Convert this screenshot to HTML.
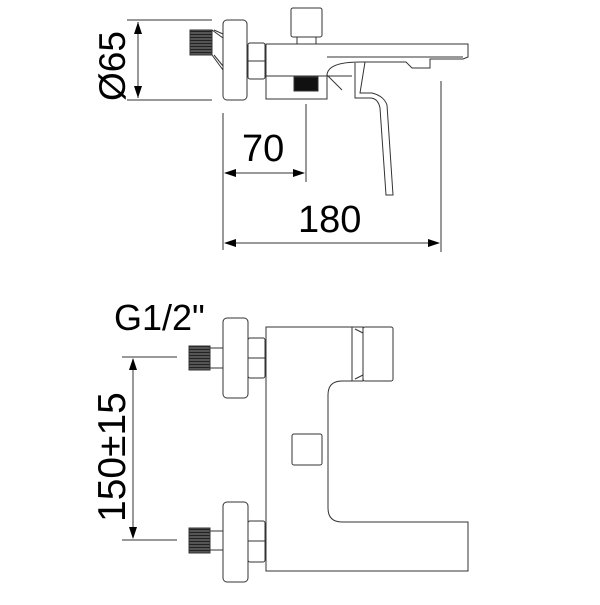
<!DOCTYPE html>
<html><head><style>body{margin:0;background:#fff}</style></head><body>
<svg width="600" height="600" viewBox="0 0 600 600" xmlns="http://www.w3.org/2000/svg" fill="none" stroke="#333" stroke-width="1">
<defs><pattern id="th" width="3" height="3" patternUnits="userSpaceOnUse"><rect width="3" height="3" fill="#555" stroke="none"/><path d="M0 1.5h3" stroke="#222"/></pattern></defs>
<!-- TOP VIEW -->
<line x1="127" y1="20" x2="212" y2="20"/><line x1="127" y1="100" x2="212" y2="100"/>
<line x1="138" y1="22" x2="138" y2="98"/>
<path d="M138 22 l-4 12 h8z M138 98 l-4 -12 h8z" fill="#000" stroke="none"/>
<text x="0" y="0" transform="translate(125,101) rotate(-90)" font-family="Liberation Sans" font-size="37" fill="#000" stroke="none">Ø65</text>
<rect x="190" y="30" width="22" height="25" fill="url(#th)"/>
<path d="M212 30 L223 38 M212 55 L223 70 M214 30 L223 34 M214 55 L223 66"/>
<rect x="223" y="20" width="24" height="80" rx="4"/>
<rect x="248" y="43" width="17" height="36" rx="2"/><line x1="248" y1="61" x2="265" y2="61"/>
<rect x="291" y="8" width="31" height="29" rx="2"/><rect x="297" y="37" width="19" height="7"/>
<path d="M266 44 H468 V57 L463 59 H430 V68 H412 L406 62 H360 Q328 62 327 75 V99 H266 Z"/>
<line x1="327" y1="57" x2="463" y2="57"/>
<line x1="266" y1="76" x2="352" y2="76"/>
<rect x="294" y="77" width="24" height="14" fill="#111"/>
<line x1="327" y1="75" x2="342" y2="90"/>
<path d="M355 63 V98 H370 Q378 98 380 108 L386 195 H393 L387 105 Q384 96 372 93 H360 L365 62"/>
<line x1="223" y1="113" x2="223" y2="250"/><line x1="306" y1="104" x2="306" y2="182"/>
<line x1="225" y1="173" x2="304" y2="173"/>
<path d="M224 173 l12 -4 v8z M305 173 l-12 -4 v8z" fill="#000" stroke="none"/>
<text x="242" y="161" font-family="Liberation Sans" font-size="38" fill="#000" stroke="none">70</text>
<line x1="441" y1="81" x2="441" y2="252"/>
<line x1="225" y1="243" x2="439" y2="243"/>
<path d="M224 243 l12 -4 v8z M440 243 l-12 -4 v8z" fill="#000" stroke="none"/>
<text x="298" y="232" font-family="Liberation Sans" font-size="38" fill="#000" stroke="none">180</text>
<!-- FRONT VIEW -->
<text x="114" y="330" font-family="Liberation Sans" font-size="36" fill="#000" stroke="none">G1/2"</text>
<line x1="122" y1="357" x2="177" y2="357"/><line x1="122" y1="540" x2="177" y2="540"/>
<line x1="133" y1="359" x2="133" y2="538"/>
<path d="M133 358 l-4 12 h8z M133 539 l-4 -12 h8z" fill="#000" stroke="none"/>
<text x="0" y="0" transform="translate(125,522) rotate(-90)" font-family="Liberation Sans" font-size="39" fill="#000" stroke="none">150±15</text>
<rect x="189" y="346" width="21" height="24" fill="url(#th)"/><rect x="210" y="348" width="13" height="20"/>
<rect x="223" y="318" width="25" height="80" rx="4"/>
<rect x="248" y="338" width="17" height="40" rx="2"/><line x1="248" y1="358" x2="265" y2="358"/>
<rect x="189" y="528" width="21" height="25" fill="url(#th)"/><rect x="210" y="531" width="13" height="19"/>
<rect x="223" y="502" width="25" height="80" rx="4"/>
<rect x="248" y="521" width="17" height="41" rx="2"/><line x1="248" y1="541" x2="265" y2="541"/>
<path d="M266 327 H352 V381 H342 Q328 381 328 395 V508 Q328 522 342 522 H468 V571 H266 Z"/>
<rect x="352" y="327" width="11" height="54"/>
<path d="M355 329 L363 333 M355 379 L363 375"/>
<rect x="363" y="327" width="30" height="54" rx="2"/>
<rect x="292" y="434" width="30" height="31" rx="2"/>
</svg>
</body></html>
